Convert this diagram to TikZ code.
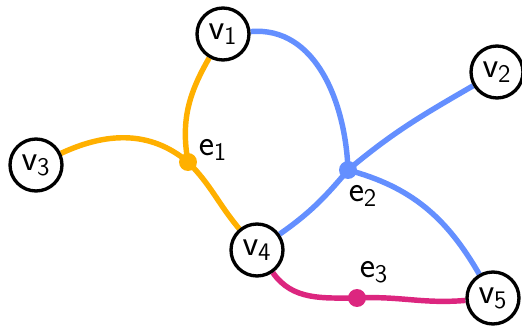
\documentclass[tikz,border=0pt]{standalone}
\usepackage{xcolor}
\usepackage{tikz}
\usetikzlibrary{backgrounds}
\definecolor{hyporange}{HTML}{FFB000}
\definecolor{hypblue}{HTML}{648FFF}
\definecolor{hypmagenta}{HTML}{DC267F}

\begin{document}
\begin{tikzpicture}[
    x=0.02cm, y=-0.02cm,
    every node/.style={font=\huge\sffamily},
    vert/.style={draw, circle, line width=1.9pt, fill=white,
      minimum size=1.04cm, inner sep=0pt},
    hub/.style={circle, fill=#1, minimum size=0.36cm, inner sep=0pt},
    lbl/.style={font=\huge\sffamily},
    hedge/.style={line width=3.1pt, #1}
  ]
  \useasboundingbox (0,0) rectangle (522,328);

  \node[vert] (v1) at (223,34)  {$\mathsf{v}_{\mathsf{1}}$};
  \node[vert] (v2) at (497,72)  {$\mathsf{v}_{\mathsf{2}}$};
  \node[vert] (v3) at (36,165)  {$\mathsf{v}_{\mathsf{3}}$};
  \node[vert] (v4) at (257,250) {$\mathsf{v}_{\mathsf{4}}$};
  \node[vert] (v5) at (493,298) {$\mathsf{v}_{\mathsf{5}}$};

  \node[hub=hyporange]   (e1) at (188,162) {};
  \node[hub=hypblue]     (e2) at (348,170) {};
  \node[hub=hypmagenta]  (e3) at (357,298) {};

  \node[lbl] (le1) at (213,150) {$\mathsf{e}_{\mathsf{1}}$};
  \node[lbl] (le2) at (363,196) {$\mathsf{e}_{\mathsf{2}}$};
  \node[lbl] (le3) at (374,272) {$\mathsf{e}_{\mathsf{3}}$};

  \begin{pgfonlayer}{background}
    \draw[hedge=hyporange] (v1) to[out=240, in=100] (e1.center);
    \draw[hedge=hyporange] (v3) to[out=25, in=140] (e1.center);
    \draw[hedge=hyporange] (e1.center) to[out=-45, in=130] (v4);

    \draw[hedge=hypblue] (v1) to[out=5, in=92] (e2.center);
    \draw[hedge=hypblue] (v2) to[out=210, in=40] (e2.center);
    \draw[hedge=hypblue] (e2.center) to[out=230, in=35] (v4);
    \draw[hedge=hypblue] (e2.center) to[out=-15, in=120] (v5);

    \draw[hedge=hypmagenta] (v4) to[out=-55, in=180] (e3.center);
    \draw[hedge=hypmagenta] (e3.center) to[out=3, in=185] (v5);
  \end{pgfonlayer}
\end{tikzpicture}
\end{document}
